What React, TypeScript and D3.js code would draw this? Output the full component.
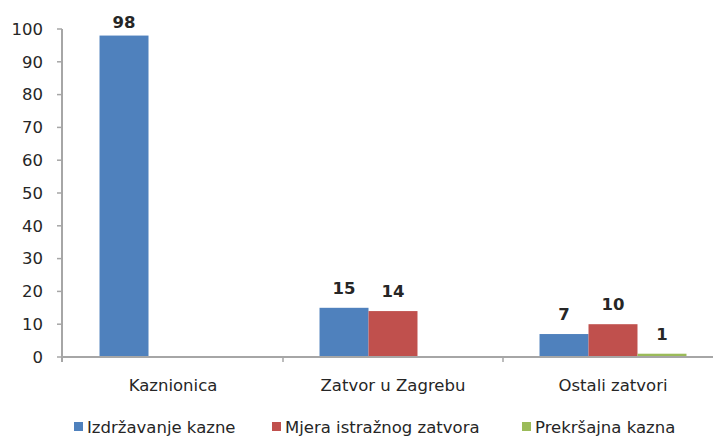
import React, { useEffect } from 'react';
import * as d3 from 'd3';

const categories = ['Kaznionica', 'Zatvor u Zagrebu', 'Ostali zatvori'];
const seriesNames = ['Izdržavanje kazne', 'Mjera istražnog zatvora', 'Prekršajna kazna'];
const seriesColors = ['#4f81bd', '#c0504d', '#9bbb59'];
const izdrzavanje: (number | null)[] = [98, 15, 7];
const mjera: (number | null)[] = [null, 14, 10];
const prekrsajna: (number | null)[] = [null, null, 1];
const yTicks = [0, 10, 20, 30, 40, 50, 60, 70, 80, 90, 100];

const W = 713;
const H = 437;
const margin = { top: 29, left: 63, bottom: 80 };
const font = '"DejaVu Sans", sans-serif';
const fs = 16.5;

const App: React.FC = () => {
  useEffect(() => {
    document.body.style.margin = '0';
  }, []);

  const values = [izdrzavanje, mjera, prekrsajna];
  const y0 = H - margin.bottom;

  const y = d3.scaleLinear().domain([0, 100]).range([y0, margin.top]);
  const x = d3.scaleBand<string>().domain(categories).range([margin.left, 723]).paddingInner(0.332).paddingOuter(0.166);
  const xs = d3.scaleBand<string>().domain(seriesNames).range([0, x.bandwidth()]);
  const step = x.step();

  const axisColor = '#a6a6a6';

  return (
    <svg width={W} height={H} style={{ display: 'block', background: '#fff' }} fontFamily={font}>
      {/* y axis */}
      <line x1={margin.left - 1} x2={margin.left - 1} y1={y(100)} y2={y0 + 5} stroke={axisColor} strokeWidth={2} />
      {yTicks.map(t => (
        <g key={t}>
          <line x1={margin.left - 6} x2={margin.left - 1} y1={y(t)} y2={y(t)} stroke={axisColor} strokeWidth={1.5} />
          <text x={43} y={y(t)} dy="0.35em" textAnchor="end" fontSize={fs} fill="#262626">{t}</text>
        </g>
      ))}
      {/* bars */}
      {categories.map((c, ci) => (
        <g key={c} transform={`translate(${x(c)},0)`}>
          {seriesNames.map((s, si) => {
            const v = values[si][ci];
            if (v == null) return null;
            return (
              <rect key={s} x={xs(s)} y={y(v)} width={xs.bandwidth()} height={y0 - y(v)} fill={seriesColors[si]} />
            );
          })}
          {seriesNames.map((s, si) => {
            const v = values[si][ci];
            if (v == null) return null;
            return (
              <text key={s} x={(xs(s) ?? 0) + xs.bandwidth() / 2} y={Math.max(y(v) - 14, 28)} textAnchor="middle"
                fontSize={fs} fontWeight="bold" fill="#262626">{v}</text>
            );
          })}
        </g>
      ))}
      {/* x axis */}
      <line x1={margin.left - 2} x2={W} y1={y0} y2={y0} stroke={axisColor} strokeWidth={2} />
      {categories.slice(1).map(c => (
        <line key={c} x1={(x(c) ?? 0) - (step - x.bandwidth()) / 2} x2={(x(c) ?? 0) - (step - x.bandwidth()) / 2}
          y1={y0} y2={y0 + 5} stroke={axisColor} strokeWidth={1.5} />
      ))}
      {categories.map(c => (
        <text key={c} x={(x(c) ?? 0) + x.bandwidth() / 2} y={391} textAnchor="middle" fontSize={fs} fill="#262626">{c}</text>
      ))}
      {/* legend */}
      {seriesNames.map((s, i) => {
        const lx = [74, 272, 522][i];
        return (
          <g key={s}>
            <rect x={lx} y={422} width={9} height={9} fill={seriesColors[i]} />
            <text x={lx + 13} y={433} fontSize={fs} fill="#262626">{s}</text>
          </g>
        );
      })}
    </svg>
  );
};

export default App;
